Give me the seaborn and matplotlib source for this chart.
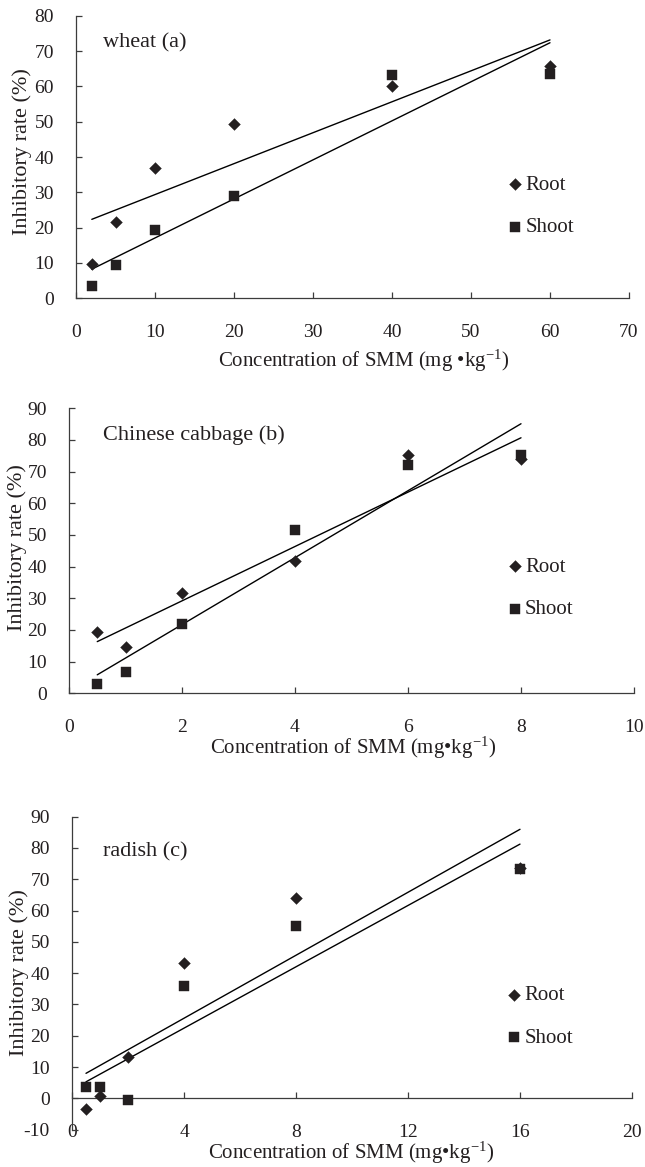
import numpy as np
import pandas as pd
import matplotlib
matplotlib.use("Agg")
import matplotlib.pyplot as plt
import seaborn as sns

# ---------------- data ----------------
wheat_conc = [2, 5, 10, 20, 40, 60]
wheat_root = [9.6, 21.7, 37.0, 49.4, 60.0, 65.9]
wheat_shoot = [3.5, 9.4, 19.2, 28.9, 63.1, 63.5]

cabbage_conc = [0.5, 1, 2, 4, 6, 8]
cabbage_root = [19.3, 14.6, 31.6, 41.8, 75.3, 74.1]
cabbage_shoot = [2.9, 6.6, 22.0, 51.7, 72.2, 75.2]

radish_conc = [0.5, 1, 2, 4, 8, 16]
radish_root = [-3.5, 0.8, 13.1, 43.2, 64.0, 73.7]
radish_shoot = [3.7, 3.7, -0.5, 36.0, 55.2, 73.2]

panel_titles = ["wheat (a)", "Chinese cabbage (b)", "radish (c)"]
xlabels = ["Concentration of SMM (mg \u2022kg$^{\\mathrm{-1}}$)",
           "Concentration of SMM (mg\u2022kg$^{\\mathrm{-1}}$)",
           "Concentration of SMM (mg\u2022kg$^{\\mathrm{-1}}$)"]
ylabel = "Inhibitory rate (%)"
x_ticks = [np.arange(0, 71, 10), np.arange(0, 11, 2), np.arange(0, 21, 4)]
y_ticks = [np.arange(0, 81, 10), np.arange(0, 91, 10), np.arange(-10, 91, 10)]
series_names = ["Root", "Shoot"]

# ---------------- style ----------------
sns.set_style("ticks")
plt.rcParams["font.family"] = ["Liberation Serif", "DejaVu Serif"]
plt.rcParams["mathtext.fontset"] = "custom"
plt.rcParams["mathtext.rm"] = "Liberation Serif"
plt.rcParams["mathtext.it"] = "Liberation Serif:italic"

FS_TICK = 14
FS_XLAB = 15
FS_YLAB = 16
FS_TITLE = 16
FS_LEG = 15
INK = "#231f20"
AX = "#3c3c3c"

fig = plt.figure(figsize=(6.45, 11.67), dpi=100)
W, H = 645.0, 1167.0

# axes rectangles in pixels: left, right, top, bottom
rects = [(76, 629, 15.7, 298.3), (69, 634, 408.3, 693.3), (72, 632, 816.7, 1129.6)]
ylab_pos = [(-0.098, 0.518), (-0.092, 0.51), (-0.094, 0.503)]
xlab_pos = [(0.52, -0.22), (0.503, -0.19), (0.498, -0.076)]
title_pos = [(0.049, 0.903), (0.060, 0.906), (0.055, 0.888)]
legend_pos = [(0.779, 0.436), (0.774, 0.478), (0.775, 0.46)]

datasets = [
    (wheat_conc, wheat_root, wheat_shoot),
    (cabbage_conc, cabbage_root, cabbage_shoot),
    (radish_conc, radish_root, radish_shoot),
]

for i, (conc, root, shoot) in enumerate(datasets):
    l, r, t, b = rects[i]
    ax = fig.add_axes([l / W, 1 - b / H, (r - l) / W, (b - t) / H])
    df = pd.DataFrame({
        "conc": conc * 2,
        "rate": root + shoot,
        "part": ["Root"] * len(conc) + ["Shoot"] * len(conc),
    })
    for part, mk, s in [("Root", "D", 36), ("Shoot", "s", 46)]:
        sub = df[df["part"] == part]
        sns.regplot(data=sub, x="conc", y="rate", scatter=False, ci=None,
                    truncate=True, ax=ax,
                    line_kws=dict(color="black", lw=1.0, zorder=2))
        sns.scatterplot(data=sub, x="conc", y="rate", marker=mk, s=s,
                        color=INK, edgecolor=INK, linewidth=0.3, ax=ax,
                        label=part, zorder=3)

    xt, yt = x_ticks[i], y_ticks[i]
    ax.set_xlim(xt[0], xt[-1])
    ax.set_ylim(yt[0], yt[-1])
    ax.set_xticks(xt)
    ax.set_yticks(yt)
    ax.set_xticklabels([str(v) for v in xt])
    ax.set_yticklabels([str(v) for v in yt])
    for side in ["top", "right"]:
        ax.spines[side].set_visible(False)
    for side in ["left", "bottom"]:
        ax.spines[side].set_color(AX)
        ax.spines[side].set_linewidth(0.9)
    if yt[0] < 0:
        ax.spines["bottom"].set_position(("data", 0))
    ax.tick_params(axis="both", direction="in", length=4, width=0.9,
                   color=AX, labelsize=FS_TICK, labelcolor=INK)
    ax.tick_params(axis="y", pad=16)
    ax.tick_params(axis="x", pad=18.5)

    ax.set_xlabel(xlabels[i], fontsize=FS_XLAB, color=INK)
    ax.set_ylabel(ylabel, fontsize=FS_YLAB, color=INK)
    ax.xaxis.label.set_va("center")
    ax.yaxis.label.set_va("center")
    ax.xaxis.set_label_coords(*xlab_pos[i])
    ax.yaxis.set_label_coords(*ylab_pos[i])

    ax.text(title_pos[i][0], title_pos[i][1], panel_titles[i],
            transform=ax.transAxes, fontsize=FS_TITLE, color=INK,
            ha="left", va="center")

    ax.legend(loc="upper left", bbox_to_anchor=legend_pos[i], frameon=False,
              fontsize=FS_LEG, borderpad=0, borderaxespad=0, handlelength=0.8,
              handletextpad=0.1, labelspacing=1.1, labelcolor=INK)

fig.savefig("out.png", dpi=100, facecolor="white")
